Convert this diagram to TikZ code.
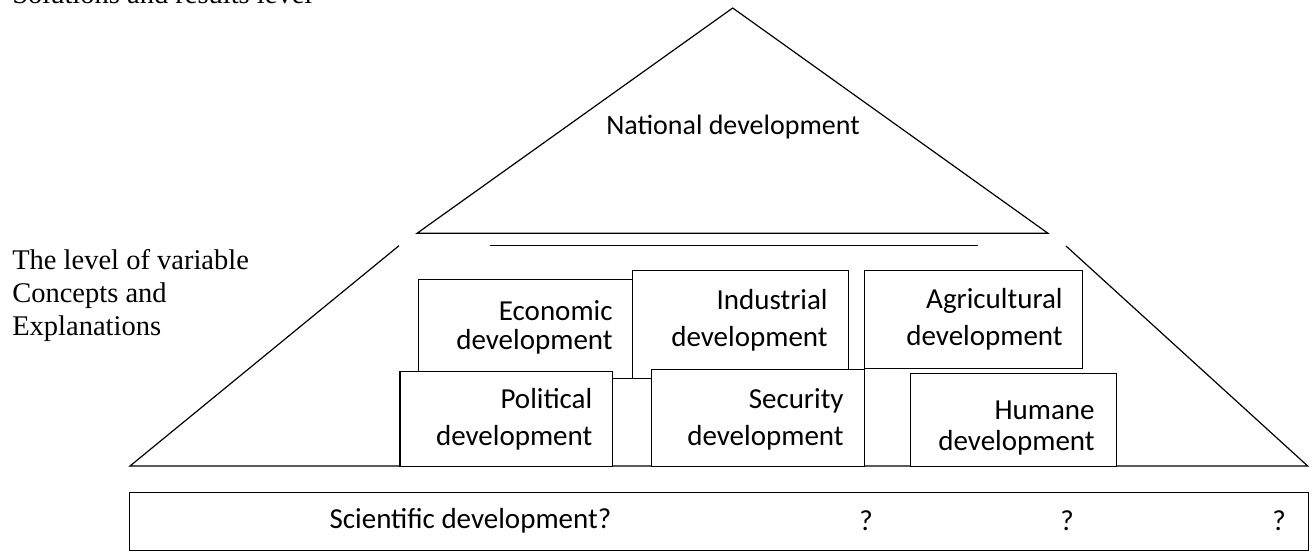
\documentclass[tikz,border=0pt]{standalone}
\usepackage{fontspec}
\setmainfont{Liberation Serif}
\newfontfamily\calibri{Carlito}
\newcommand\devfont[1]{\calibri\fontsize{29}{#1}\selectfont}
\newcommand\levelfont{\fontsize{28.5}{33}\selectfont}
\tikzset{
  devbox/.style={draw, fill=white, anchor=north west, inner sep=0pt},
  devtext/.style={text width=190pt, align=right, inner sep=0pt, anchor=base east},
}
\begin{document}
\begin{tikzpicture}[x=1pt, y=-1pt, line width=1.2pt]
\useasboundingbox (0,0) rectangle (1314,552);
% top triangle
\coordinate (apex) at (732.7,8);
\coordinate (topL) at (417,233.3);
\coordinate (topR) at (1048,233.3);
\draw (apex) -- (topL) -- (topR) -- cycle;
\node[font=\calibri\fontsize{28}{30}\selectfont] (national) at (733,127) {National development};
% middle band
\coordinate (rulel) at (490,245.7);
\coordinate (ruler) at (978,245.7);
\draw (rulel) -- (ruler);
\coordinate (midL) at (399,245.7);
\coordinate (midR) at (1066,246);
\coordinate (baseL) at (130,466);
\coordinate (baseR) at (1307.7,466);
\draw (midL) -- (baseL) -- (baseR) -- (midR);
% upper row of boxes
\node[devbox, minimum width=214.3pt, minimum height=99pt] (econ) at (417.7,279) {};
\node[devbox, minimum width=216pt, minimum height=108pt] (indus) at (632,270) {};
\node[devbox, minimum width=218pt, minimum height=98pt] (agri) at (864,270) {};
\node[devtext, font=\devfont{28.5}] (econtext) at ([xshift=-20pt, yshift=-41.5pt]econ.north east) {Economic\\development};
\node[devtext, font=\devfont{36.7}] (industext) at ([xshift=-21pt, yshift=-39.3pt]indus.north east) {Industrial\\development};
\node[devtext, font=\devfont{36.7}] (agritext) at ([xshift=-20pt, yshift=-38.3pt]agri.north east) {Agricultural\\development};
% lower row of boxes
\node[devbox, minimum width=212.4pt, minimum height=95.3pt] (polit) at (399.3,370.7) {};
\node[devbox, minimum width=213pt, minimum height=97pt] (secur) at (651,369) {};
\node[devbox, minimum width=206pt, minimum height=93pt] (humane) at (910,373) {};
\node[devtext, font=\devfont{37}] (polittext) at ([xshift=-20pt, yshift=-37.6pt]polit.north east) {Political\\development};
\node[devtext, font=\devfont{37}] (securtext) at ([xshift=-21pt, yshift=-39pt]secur.north east) {Security\\development};
\node[devtext, font=\devfont{31.5}] (humanetext) at ([xshift=-22pt, yshift=-46pt]humane.north east) {Humane\\development};
% bottom bar
\node[draw, anchor=north west, minimum width=1179pt, minimum height=58.3pt, inner sep=0pt] (science) at (129,491.7) {};
\node[font=\devfont{30}, anchor=west, inner sep=0pt] (scitext) at (329,521) {Scientific development?};
\node[font=\devfont{30}] (q1) at (866,521) {?};
\node[font=\devfont{30}] (q2) at (1067,521) {?};
\node[font=\devfont{30}] (q3) at (1279,521) {?};
% level labels
\node[font=\levelfont, anchor=base west, inner sep=0pt] (solutions) at (11.7,3.5) {Solutions and results level};
\node[font=\levelfont, anchor=north west, inner sep=0pt, align=left] (variable) at (11.7,249) {The level of variable\\Concepts and\\Explanations};
\end{tikzpicture}
\end{document}
